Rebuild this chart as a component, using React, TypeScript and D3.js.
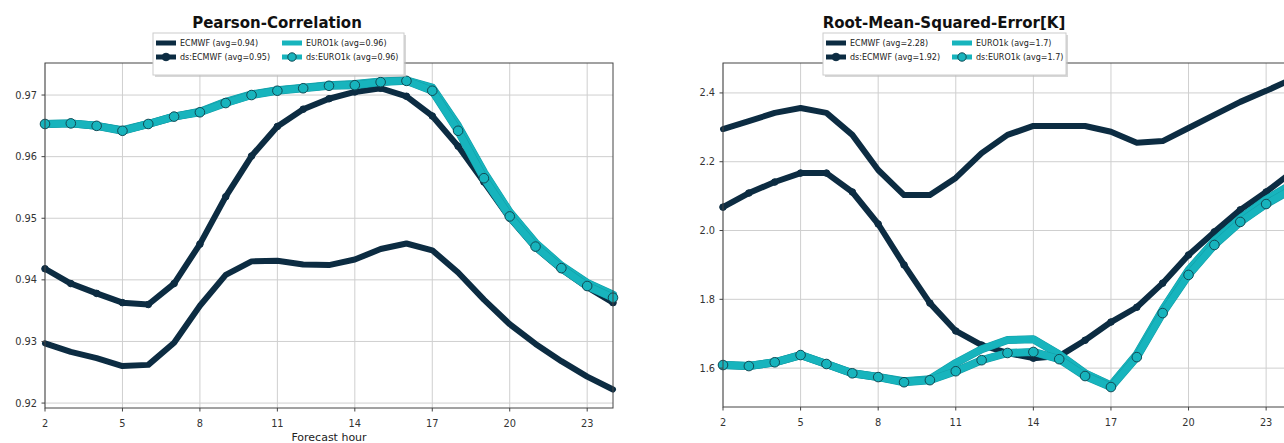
import React from 'react';
import * as d3 from 'd3';

// forecast hours on the x axis
const hours = d3.range(2, 25);
const xTicks = [2, 5, 8, 11, 14, 17, 20, 23];

// Pearson correlation panel
const pcTicks = [0.92, 0.93, 0.94, 0.95, 0.96, 0.97];
const pcEcmwf = [0.9297, 0.9283, 0.9273, 0.926, 0.9262, 0.9298, 0.9358, 0.9408, 0.943, 0.9431, 0.9425, 0.9424, 0.9433, 0.945, 0.9459, 0.9448, 0.9412, 0.9368, 0.9328, 0.9296, 0.9268, 0.9243, 0.9222];
const pcDsEcmwf = [0.9418, 0.9394, 0.9378, 0.9363, 0.936, 0.9394, 0.9458, 0.9535, 0.9601, 0.9649, 0.9677, 0.9694, 0.9705, 0.9711, 0.9698, 0.9666, 0.9617, 0.9559, 0.95, 0.9452, 0.9417, 0.9388, 0.9363];
const pcEuro = [0.9653, 0.9654, 0.965, 0.9643, 0.9653, 0.9665, 0.9673, 0.9689, 0.9701, 0.9708, 0.9712, 0.9716, 0.9718, 0.9722, 0.9724, 0.9712, 0.965, 0.9575, 0.951, 0.946, 0.9423, 0.9395, 0.9376];
const pcDsEuro = [0.9653, 0.9654, 0.965, 0.9642, 0.9653, 0.9665, 0.9672, 0.9687, 0.97, 0.9707, 0.9711, 0.9715, 0.9716, 0.9721, 0.9723, 0.9707, 0.9642, 0.9565, 0.9503, 0.9454, 0.9419, 0.939, 0.9371];

// RMSE panel
const rmTicks = [1.6, 1.8, 2.0, 2.2, 2.4];
const rmEcmwf = [2.295, 2.318, 2.342, 2.356, 2.342, 2.278, 2.176, 2.103, 2.103, 2.153, 2.225, 2.278, 2.304, 2.304, 2.304, 2.287, 2.255, 2.26, 2.298, 2.336, 2.374, 2.406, 2.44];
const rmDsEcmwf = [2.068, 2.109, 2.141, 2.167, 2.167, 2.112, 2.019, 1.9, 1.789, 1.708, 1.667, 1.644, 1.629, 1.635, 1.681, 1.734, 1.777, 1.847, 1.929, 1.996, 2.06, 2.112, 2.17];
const rmEuro = [1.609, 1.606, 1.617, 1.638, 1.612, 1.585, 1.574, 1.562, 1.568, 1.615, 1.655, 1.682, 1.684, 1.64, 1.585, 1.55, 1.64, 1.77, 1.885, 1.97, 2.035, 2.09, 2.135];
const rmDsEuro = [1.609, 1.606, 1.617, 1.638, 1.612, 1.585, 1.574, 1.559, 1.565, 1.591, 1.623, 1.644, 1.647, 1.626, 1.577, 1.545, 1.632, 1.76, 1.871, 1.958, 2.025, 2.077, 2.12];

const DARK = '#0c2c42';
const TEAL = '#17b4bd';
const TEAL_EDGE = '#139ea7';
const FONT = 'DejaVu Sans, sans-serif';

type Series = { name: string; values: number[]; color: string; width: number; marker: boolean };

function Panel({ x0, x1, y0, y1, yDomain, yTicks, fmt, title, titleX, legendX, legendW, series, xLabel }: {
  x0: number; x1: number; y0: number; y1: number; yDomain: [number, number]; yTicks: number[];
  fmt: (v: number) => string; title: string; titleX: number; legendX: number; legendW: number;
  series: Series[]; xLabel?: string;
}) {
  const x = d3.scaleLinear().domain([2, 24]).range([x0, x1]);
  const y = d3.scaleLinear().domain(yDomain).range([y1, y0]);
  const line = d3.line<number>().x((_, i) => x(hours[i])).y(d => y(d));

  const legendY = 33;
  const rows = [
    { s: series[0], col: 0, row: 0 },
    { s: series[1], col: 0, row: 1 },
    { s: series[2], col: 1, row: 0 },
    { s: series[3], col: 1, row: 1 },
  ];

  return (
    <g>
      {/* grid */}
      {xTicks.map(t => (
        <line key={'gx' + t} x1={x(t)} x2={x(t)} y1={y0} y2={y1} stroke="#cfcfcf" strokeWidth={1} />
      ))}
      {yTicks.map(t => (
        <line key={'gy' + t} x1={x0} x2={x1} y1={y(t)} y2={y(t)} stroke="#cfcfcf" strokeWidth={1} />
      ))}
      {/* series */}
      {series.map(s => (
        <g key={s.name}>
          {s.color === TEAL && (
            <path d={line(s.values) || ''} fill="none" stroke={TEAL_EDGE} strokeWidth={s.width + 1} strokeLinejoin="round" strokeLinecap="round" />
          )}
          <path d={line(s.values) || ''} fill="none" stroke={s.color} strokeWidth={s.width} strokeLinejoin="round" strokeLinecap="round" />
          {s.marker && s.values.map((v, i) => (
            <circle key={i} cx={x(hours[i])} cy={y(v)} r={s.color === TEAL ? 4.8 : 3.3}
              fill={s.color} stroke={s.color === TEAL ? '#124a55' : DARK} strokeWidth={1} />
          ))}
        </g>
      ))}
      {/* frame */}
      <rect x={x0} y={y0} width={x1 - x0} height={y1 - y0} fill="none" stroke="#444" strokeWidth={1} />
      {/* ticks */}
      {xTicks.map(t => (
        <g key={'tx' + t}>
          <line x1={x(t)} x2={x(t)} y1={y1} y2={y1 + 3.5} stroke="#444" />
          <text x={x(t)} y={y1 + 19} textAnchor="middle" fontSize={9.8} fill="#333" fontFamily={FONT}>{t}</text>
        </g>
      ))}
      {yTicks.map(t => (
        <g key={'ty' + t}>
          <line x1={x0 - 3.5} x2={x0} y1={y(t)} y2={y(t)} stroke="#444" />
          <text x={x0 - 8} y={y(t) + 3.5} textAnchor="end" fontSize={9.8} fill="#333" fontFamily={FONT}>{fmt(t)}</text>
        </g>
      ))}
      {xLabel && (
        <text x={(x0 + x1) / 2} y={441} textAnchor="middle" fontSize={11} fill="#222" fontFamily={FONT}>{xLabel}</text>
      )}
      <text x={titleX} y={28} textAnchor="middle" fontSize={15} fontWeight="bold" fill="#111" fontFamily={FONT}>{title}</text>
      {/* legend */}
      <rect x={legendX + 2} y={legendY + 2} width={legendW} height={42} fill="#bdbdbd" opacity={0.6} />
      <rect x={legendX} y={legendY} width={legendW} height={42} fill="#fff" stroke="#ccc" strokeWidth={1} />
      {rows.map(({ s, col, row }) => {
        const hx = legendX + (col === 0 ? 3 : 129);
        const hy = legendY + 10 + row * 14;
        return (
          <g key={'lg' + s.name}>
            <line x1={hx} x2={hx + 20} y1={hy} y2={hy} stroke={s.color} strokeWidth={5} />
            {s.marker && <circle cx={hx + 10} cy={hy} r={s.color === TEAL ? 4.2 : 3.8} fill={s.color} stroke={s.color === TEAL ? '#124a55' : DARK} />}
            <text x={hx + 24} y={hy + 3} fontSize={8} fill="#222" fontFamily={FONT}>{s.name}</text>
          </g>
        );
      })}
    </g>
  );
}

export default function App() {
  const pcSeries: Series[] = [
    { name: 'ECMWF (avg=0.94)', values: pcEcmwf, color: DARK, width: 6, marker: false },
    { name: 'ds:ECMWF (avg=0.95)', values: pcDsEcmwf, color: DARK, width: 6, marker: true },
    { name: 'EURO1k (avg=0.96)', values: pcEuro, color: TEAL, width: 7, marker: false },
    { name: 'ds:EURO1k (avg=0.96)', values: pcDsEuro, color: TEAL, width: 7, marker: true },
  ];
  const rmSeries: Series[] = [
    { name: 'ECMWF (avg=2.28)', values: rmEcmwf, color: DARK, width: 6, marker: false },
    { name: 'ds:ECMWF (avg=1.92)', values: rmDsEcmwf, color: DARK, width: 6, marker: true },
    { name: 'EURO1k (avg=1.7)', values: rmEuro, color: TEAL, width: 7, marker: false },
    { name: 'ds:EURO1k (avg=1.7)', values: rmDsEuro, color: TEAL, width: 7, marker: true },
  ];
  return (
    <div style={{ position: 'fixed', left: 0, top: 0 }}>
      <svg width={1284} height={443} style={{ display: 'block', background: '#fff' }}>
        <Panel x0={45} x1={613} y0={63} y1={408} yDomain={[0.9192, 0.9752]} yTicks={pcTicks}
          fmt={d3.format('.2f')} title="Pearson-Correlation" titleX={277} legendX={153} legendW={251}
          series={pcSeries} xLabel="Forecast hour" />
        <Panel x0={723} x1={1292} y0={63} y1={407} yDomain={[1.487, 2.487]} yTicks={rmTicks}
          fmt={d3.format('.1f')} title="Root-Mean-Squared-Error[K]" titleX={944} legendX={823} legendW={243}
          series={rmSeries} />
      </svg>
    </div>
  );
}
